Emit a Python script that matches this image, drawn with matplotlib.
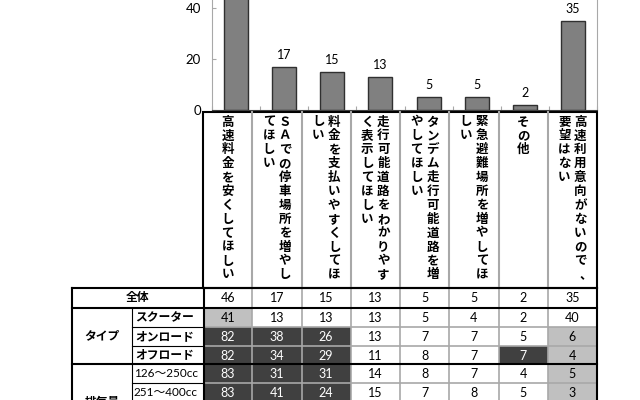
import numpy as np
import matplotlib
matplotlib.use("Agg")
import matplotlib.pyplot as plt
import matplotlib.patches as mpatches

plt.rcParams['font.family'] = ['Noto Sans CJK JP', 'DejaVu Sans']

# answers (overall share, %)
categories = [
    "高速料金を安くしてほしい",
    "ＳＡでの停車場所を増やしてほしい",
    "料金を支払いやすくしてほしい",
    "走行可能道路をわかりやすく表示してほしい",
    "タンデム走行可能道路を増やしてほしい",
    "緊急避難場所を増やしてほしい",
    "その他",
    "高速利用意向がないので、要望はない",
]
overall = [46, 17, 15, 13, 5, 5, 2, 35]

# breakdown table
group_labels = ["タイプ", "排気量"]
group_rows = [[1, 2, 3], [4, 5]]
row_labels = ["全体", "スクーター", "オンロード", "オフロード", "126〜250cc", "251〜400cc"]
table_values = [
    [46, 17, 15, 13, 5, 5, 2, 35],
    [41, 13, 13, 13, 5, 4, 2, 40],
    [82, 38, 26, 13, 7, 7, 5, 6],
    [82, 34, 29, 11, 8, 7, 7, 4],
    [83, 31, 31, 14, 8, 7, 4, 5],
    [83, 41, 24, 15, 7, 8, 5, 3],
]
# d = much higher than overall, l = lower
shade = [
    "........",
    "l.......",
    "ddd....l",
    "ddd...dl",
    "ddd....l",
    "ddd....l",
]

num_font = ['Lato', 'Noto Sans CJK JP']
DARK = "#404040"
LIGHT = "#c0c0c0"
GRID = "#a8a8a8"

fig = plt.figure(figsize=(6.4, 4.0), dpi=100)

# overlay in pixel coords for the label box and table
tab = fig.add_axes([0, 0, 1, 1])
tab.set_xlim(0, 640)
tab.set_ylim(400, 0)
tab.axis('off')

col_edges = np.linspace(203, 597, len(categories) + 1)
col_centers = (col_edges[:-1] + col_edges[1:]) / 2

# vertical category labels, columns run right to left
box_top, box_bot = 112, 288
for i, label in enumerate(categories):
    cols = [label[k:k + 12] for k in range(0, len(label), 12)]
    n = len(cols)
    for j, text in enumerate(cols):
        x = col_centers[i] + (n - 1) * 8 - j * 16
        for k, ch in enumerate(text):
            dx, dy = 0, 0
            if ch == "、":
                dx, dy = 5, 0
            tab.text(x + dx, 122 + k * 13.9 + dy, ch, ha='center', va='center',
                     fontsize=9, fontweight='bold', color='black')
for x in col_edges[1:-1]:
    tab.plot([x, x], [box_top, box_bot], color=GRID, lw=1.5)
tab.add_patch(mpatches.Rectangle((203, box_top), 597 - 203, box_bot - box_top,
                                 fill=False, ec='black', lw=1.5))

# table rows
row_edges = [288, 308, 327, 346, 364, 383, 402]
for r, vals in enumerate(table_values):
    y0, y1 = row_edges[r], row_edges[r + 1]
    yc = (y0 + y1) / 2
    for c, v in enumerate(vals):
        s = shade[r][c]
        fc = DARK if s == "d" else LIGHT if s == "l" else None
        if fc:
            tab.add_patch(mpatches.Rectangle((col_edges[c], y0), col_edges[c + 1] - col_edges[c],
                                             y1 - y0, fc=fc, ec='none'))
        tab.text(col_centers[c], yc + 0.5, str(v), ha='center', va='center', fontsize=9,
                 family=num_font, color='white' if s == "d" else 'black')
    if r == 0:
        tab.text(138, yc, row_labels[r], ha='center', va='center', fontsize=8.5,
                 fontweight='bold')
    elif r < 4:
        tab.text(135, yc, row_labels[r], ha='left', va='center', fontsize=8.5,
                 fontweight='bold')
    else:
        tab.text(134, yc, row_labels[r], ha='left', va='center', fontsize=8.5,
                 family=num_font)

for g, rows in zip(group_labels, group_rows):
    yc = (row_edges[rows[0]] + row_edges[rows[-1] + 1]) / 2
    if g == "排気量":
        yc = 402
    tab.text(102, yc, g, ha='center', va='center', fontsize=8.5, fontweight='bold')

# grid lines of the table
for x in col_edges[1:-1]:
    tab.plot([x, x], [288, 402], color=GRID, lw=1.2)
for y in [327, 346, 383]:
    tab.plot([204, 597], [y, y], color=GRID, lw=1.2)
    tab.plot([132, 204], [y, y], color='black', lw=0.8)
for y in [288, 308, 364]:
    tab.plot([72, 597], [y, y], color='black', lw=1.5)
tab.plot([72, 72], [288, 402], color='black', lw=1.5)
tab.plot([597, 597], [288, 402], color='black', lw=1.5)
tab.plot([204, 204], [288, 402], color='black', lw=1.5)
tab.plot([132, 132], [308, 402], color='black', lw=0.8)

# bar chart (top cut off in the source)
ax = fig.add_axes([212 / 640, 1 - 110 / 400, (597 - 212) / 640, 110 / 400])
x = np.arange(len(overall))
ax.bar(x, overall, width=0.5, color='#808080', edgecolor='#303030', linewidth=1)
for xi, v in zip(x, overall):
    ax.text(xi, v + 2.3, str(v), ha='center', va='bottom', fontsize=9, family=num_font)
ax.set_xlim(-0.5, len(overall) - 0.5)
ax.set_ylim(0, 43.1)
ax.set_yticks([0, 20, 40])
ax.set_yticklabels(['0', '20', '40'], family=num_font, fontsize=9.5)
ax.set_xticks(np.arange(len(overall) + 1) - 0.5)
ax.set_xticklabels([])
ax.tick_params(axis='x', direction='in', length=3, color=GRID)
ax.tick_params(axis='y', direction='in', length=3, color=GRID, pad=8)
ax.spines['top'].set_visible(False)
ax.spines['left'].set_color(GRID)
ax.spines['right'].set_color(GRID)
ax.spines['bottom'].set_color('#404040')

fig.savefig("out.png", dpi=100)
